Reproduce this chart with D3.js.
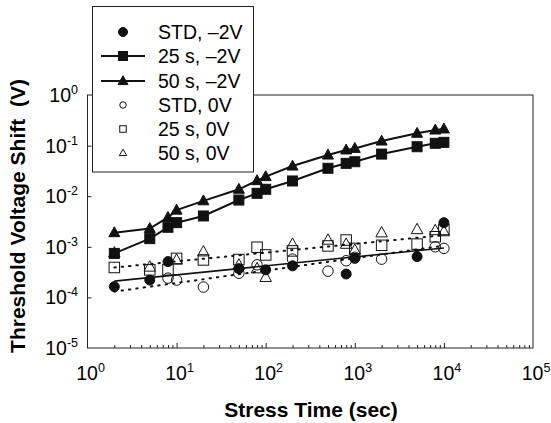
<!DOCTYPE html>
<html>
<head>
<meta charset="utf-8">
<script src="https://cdn.jsdelivr.net/npm/d3@7"></script>
<style>
  body { margin: 0; background: #fff; }
  svg { display: block; font-family: "Liberation Sans", Arial, sans-serif; }
</style>
</head>
<body>
<div id="chart"></div>
<script>
// Stress times (sec), shared by every series
const times = [2, 5, 8, 10, 20, 50, 80, 100, 200, 500, 800, 1000, 2000, 5000, 8000, 10000];

// Threshold voltage shift (V) per series, null = point not visible
const std2V   = [1.63e-4, 2.2e-4, 5.1e-4, null, null, 3.7e-4, null, 3.5e-4, 4.2e-4, null, 2.9e-4, 5.9e-4, null, 6.4e-4, null, 3.0e-3];
const s25_2V  = [7.4e-4, 1.45e-3, 2.43e-3, 3.0e-3, 4.07e-3, 8.4e-3, 0.0114, 0.0137, 0.020, 0.0356, 0.0446, 0.048, 0.068, 0.095, 0.111, 0.116];
const s50_2V  = [1.9e-3, 2.3e-3, 3.8e-3, 5.3e-3, 8.1e-3, 0.0137, 0.0203, 0.0244, 0.0394, 0.065, 0.082, 0.088, 0.123, 0.175, 0.203, 0.213];
const std0V   = [null, null, 2.4e-4, 2.2e-4, 1.6e-4, 3.0e-4, 4.4e-4, null, 5.7e-4, 3.3e-4, 5.3e-4, 6.2e-4, 5.7e-4, null, 1.0e-3, 9.3e-4];
const s25_0V  = [3.9e-4, 3.5e-4, 3.5e-4, 5.9e-4, 5.5e-4, 5.6e-4, 9.8e-4, 6.9e-4, 8.3e-4, 1.04e-3, 1.36e-3, 9.3e-4, 1.07e-3, 1.13e-3, 1.58e-3, 2.2e-3];
const s50_0V  = [7.6e-4, 4.0e-4, null, 5.5e-4, 8.0e-4, 4.4e-4, 3.7e-4, 2.5e-4, 1.13e-3, 1.36e-3, 1.13e-3, 8.6e-4, 1.9e-3, 2.2e-3, 2.1e-3, 2.0e-3];

// Fit lines (end points)
const fitTimes   = [2, 10000];
const fitStd2V   = [2.1e-4, 9.5e-4];
const fitUpper0V = [3.9e-4, 1.7e-3];
const fitLower0V = [1.3e-4, 1.05e-3];

// Axis decades
const xExps = [0, 1, 2, 3, 4, 5];
const yExps = [0, -1, -2, -3, -4, -5];

const legendLabels = ["STD, \u20132V", "25 s, \u20132V", "50 s, \u20132V", "STD, 0V", "25 s, 0V", "50 s, 0V"];

const width = 551, height = 423;
const plot = { left: 87.5, right: 533, top: 95, bottom: 348 };

const svg = d3.select("#chart").append("svg")
    .attr("width", width)
    .attr("height", height);

const x = d3.scaleLog().domain([1, 1e5]).range([plot.left, plot.right]);
const y = d3.scaleLog().domain([1e-5, 1]).range([plot.bottom, plot.top]);

// minor ticks on x
const minorX = [];
for (let e = 0; e < 5; e++) for (let m = 2; m <= 9; m++) minorX.push(m * Math.pow(10, e));

svg.append("g")
    .attr("transform", `translate(0,${plot.bottom})`)
    .call(d3.axisBottom(x).tickValues(minorX).tickSize(-3).tickFormat(""))
    .call(g => g.select(".domain").remove())
    .selectAll("line").attr("stroke", "#222");

svg.append("g")
    .attr("transform", `translate(0,${plot.bottom})`)
    .call(d3.axisBottom(x).tickValues([10, 100, 1000, 10000]).tickSize(-5).tickFormat(""))
    .call(g => g.select(".domain").remove())
    .selectAll("line").attr("stroke", "#222");

svg.append("g")
    .attr("transform", `translate(${plot.left},0)`)
    .call(d3.axisLeft(y).tickValues([1e-1, 1e-2, 1e-3, 1e-4]).tickSize(-4).tickFormat(""))
    .call(g => g.select(".domain").remove())
    .selectAll("line").attr("stroke", "#222");

// frame
svg.append("rect")
    .attr("x", plot.left).attr("y", plot.top)
    .attr("width", plot.right - plot.left).attr("height", plot.bottom - plot.top)
    .attr("fill", "none").attr("stroke", "#222").attr("stroke-width", 1);

// tick labels with superscripts
function powLabel(sel, e) {
    sel.append("tspan").text("10");
    sel.append("tspan").attr("dy", -8).attr("font-size", 12.5).text(e);
}

xExps.forEach(e => {
    const t = svg.append("text")
        .attr("x", x(Math.pow(10, e)) + 3)
        .attr("y", 380)
        .attr("text-anchor", "middle")
        .attr("font-size", 19.5);
    powLabel(t, e);
});

yExps.forEach(e => {
    const t = svg.append("text")
        .attr("x", 78)
        .attr("y", y(Math.pow(10, e)) + 7)
        .attr("text-anchor", "end")
        .attr("font-size", 19.5);
    powLabel(t, e);
});

// axis titles
svg.append("text")
    .attr("x", 311).attr("y", 417)
    .attr("text-anchor", "middle")
    .attr("font-size", 21).attr("font-weight", "bold")
    .text("Stress Time (sec)");

svg.append("text")
    .attr("transform", "translate(25,216) rotate(-90)")
    .attr("text-anchor", "middle")
    .attr("font-size", 21).attr("font-weight", "bold")
    .attr("xml:space", "preserve")
    .text("Threshold Voltage Shift  (V)");

// fit lines
const fitLine = d3.line().x(d => x(d[0])).y(d => y(d[1]));
function drawFit(vals, dash) {
    svg.append("path")
        .datum(fitTimes.map((t, i) => [t, vals[i]]))
        .attr("d", fitLine)
        .attr("fill", "none")
        .attr("stroke", "#111")
        .attr("stroke-width", dash ? 2 : 1.6)
        .attr("stroke-dasharray", dash ? "1.4,6" : null)
        .attr("stroke-linecap", dash ? "round" : "butt");
}
drawFit(fitStd2V, false);
drawFit(fitUpper0V, true);
drawFit(fitLower0V, true);

// connecting lines for the -2V stressed series
const seriesLine = d3.line().defined(d => d[1] != null).x(d => x(d[0])).y(d => y(d[1]));
[s25_2V, s50_2V].forEach(vals => {
    svg.append("path")
        .datum(times.map((t, i) => [t, vals[i]]))
        .attr("d", seriesLine)
        .attr("fill", "none")
        .attr("stroke", "#111")
        .attr("stroke-width", 2);
});

// marker shapes
function marker(g, type, filled, size) {
    const fill = filled ? "#111" : "none";
    const stroke = "#111";
    if (type === "circle") {
        g.append("circle").attr("r", size / 2).attr("fill", fill).attr("stroke", stroke).attr("stroke-width", 1);
    } else if (type === "square") {
        g.append("rect").attr("x", -size / 2).attr("y", -size / 2).attr("width", size).attr("height", size)
            .attr("fill", fill).attr("stroke", stroke).attr("stroke-width", 1);
    } else {
        const h = size * 0.95;
        g.append("path")
            .attr("d", `M0,${-h * 0.62}L${size / 2 + 0.5},${h * 0.42}L${-size / 2 - 0.5},${h * 0.42}Z`)
            .attr("fill", fill).attr("stroke", stroke).attr("stroke-width", 1);
    }
}

const series = [
    { vals: std2V,  type: "circle",   filled: true },
    { vals: s25_2V, type: "square",   filled: true },
    { vals: s50_2V, type: "triangle", filled: true },
    { vals: std0V,  type: "circle",   filled: false },
    { vals: s25_0V, type: "square",   filled: false },
    { vals: s50_0V, type: "triangle", filled: false }
];

series.forEach(s => {
    const pts = times.map((t, i) => [t, s.vals[i]]).filter(d => d[1] != null);
    svg.append("g").selectAll("g")
        .data(pts)
        .join("g")
        .attr("transform", d => `translate(${x(d[0])},${y(d[1])})`)
        .each(function () { marker(d3.select(this), s.type, s.filled, s.filled ? 10 : 10.5); });
});

// legend
const legend = svg.append("g");
legend.append("rect")
    .attr("x", 92.5).attr("y", 6.5)
    .attr("width", 161).attr("height", 165.5)
    .attr("fill", "#fff").attr("stroke", "#222").attr("stroke-width", 1);

const rowY = [32, 56, 81, 105, 129, 153];
series.forEach((s, i) => {
    const row = legend.append("g").attr("transform", `translate(0,${rowY[i]})`);
    if (i === 1 || i === 2) {
        row.append("line").attr("x1", 101).attr("x2", 145).attr("y1", 0).attr("y2", 0)
            .attr("stroke", "#111").attr("stroke-width", 2);
    }
    const m = row.append("g").attr("transform", "translate(123,0)");
    marker(m, s.type, s.filled, s.filled ? 9 : 6.5);
    row.append("text")
        .attr("x", 158).attr("y", 7)
        .attr("font-size", 19.5)
        .text(legendLabels[i]);
});
</script>
</body>
</html>
